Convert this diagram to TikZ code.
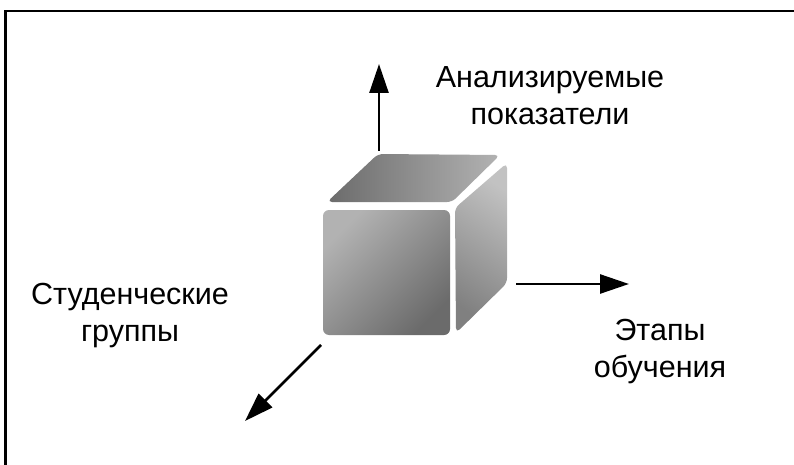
\documentclass[tikz,border=0pt]{standalone}
\usepackage{fontspec}
\setmainfont{Liberation Sans}
\usetikzlibrary{arrows.meta}
\begin{document}
\begin{tikzpicture}[x=1pt,y=-1pt,
  axisarrow/.style={line width=2.6pt,-{Triangle[length=29pt,width=19pt]}},
  axislabel/.style={align=center,anchor=base,inner sep=0pt,
    font=\fontsize{30.5}{37}\selectfont},
  face/.style={rounded corners=5pt}]
  % page and frame (top and left rules only)
  \useasboundingbox (0,0) rectangle (794,465);
  \fill[white] (0,0) rectangle (794,465);
  \draw[line width=2.2pt] (5.5,465) -- (5.5,11) -- (794,11);

  % cube: top face
  \shade[face,left color=black!58,right color=black!30]
    (327,202) -- (378,154) -- (500,155) -- (452,202) -- cycle;
  % cube: right face
  \shade[face,shading=axis,top color=black!24,bottom color=black!50,shading angle=-35]
    (455,208) -- (507,163) -- (507,283) -- (456,333) -- cycle;
  % cube: front face
  \shade[rounded corners=6pt,shading=axis,top color=black!30,bottom color=black!58,shading angle=45]
    (323,210) rectangle (450,335);
  \node[inner sep=0pt,minimum width=127pt,minimum height=125pt] (cube) at (386.5,272.5) {};

  % axis end points
  \coordinate (upS) at (379,151);
  \coordinate (upE) at (379,64);
  \coordinate (rtS) at (516,284);
  \coordinate (rtE) at (629,284);
  \coordinate (dlS) at (321,345);
  \coordinate (dlE) at (245,421);

  \draw[axisarrow] (upS) -- (upE);
  \draw[axisarrow] (rtS) -- (rtE);
  \draw[axisarrow] (dlS) -- (dlE);

  % axis labels (anchored at the baseline of the second line)
  \node[axislabel] (lblUp) at (550,125) {Анализируемые\\показатели};
  \node[axislabel] (lblLeft) at (130,341) {Студенческие\\группы};
  \node[axislabel] (lblRight) at (660,377) {Этапы\\обучения};
\end{tikzpicture}
\end{document}
